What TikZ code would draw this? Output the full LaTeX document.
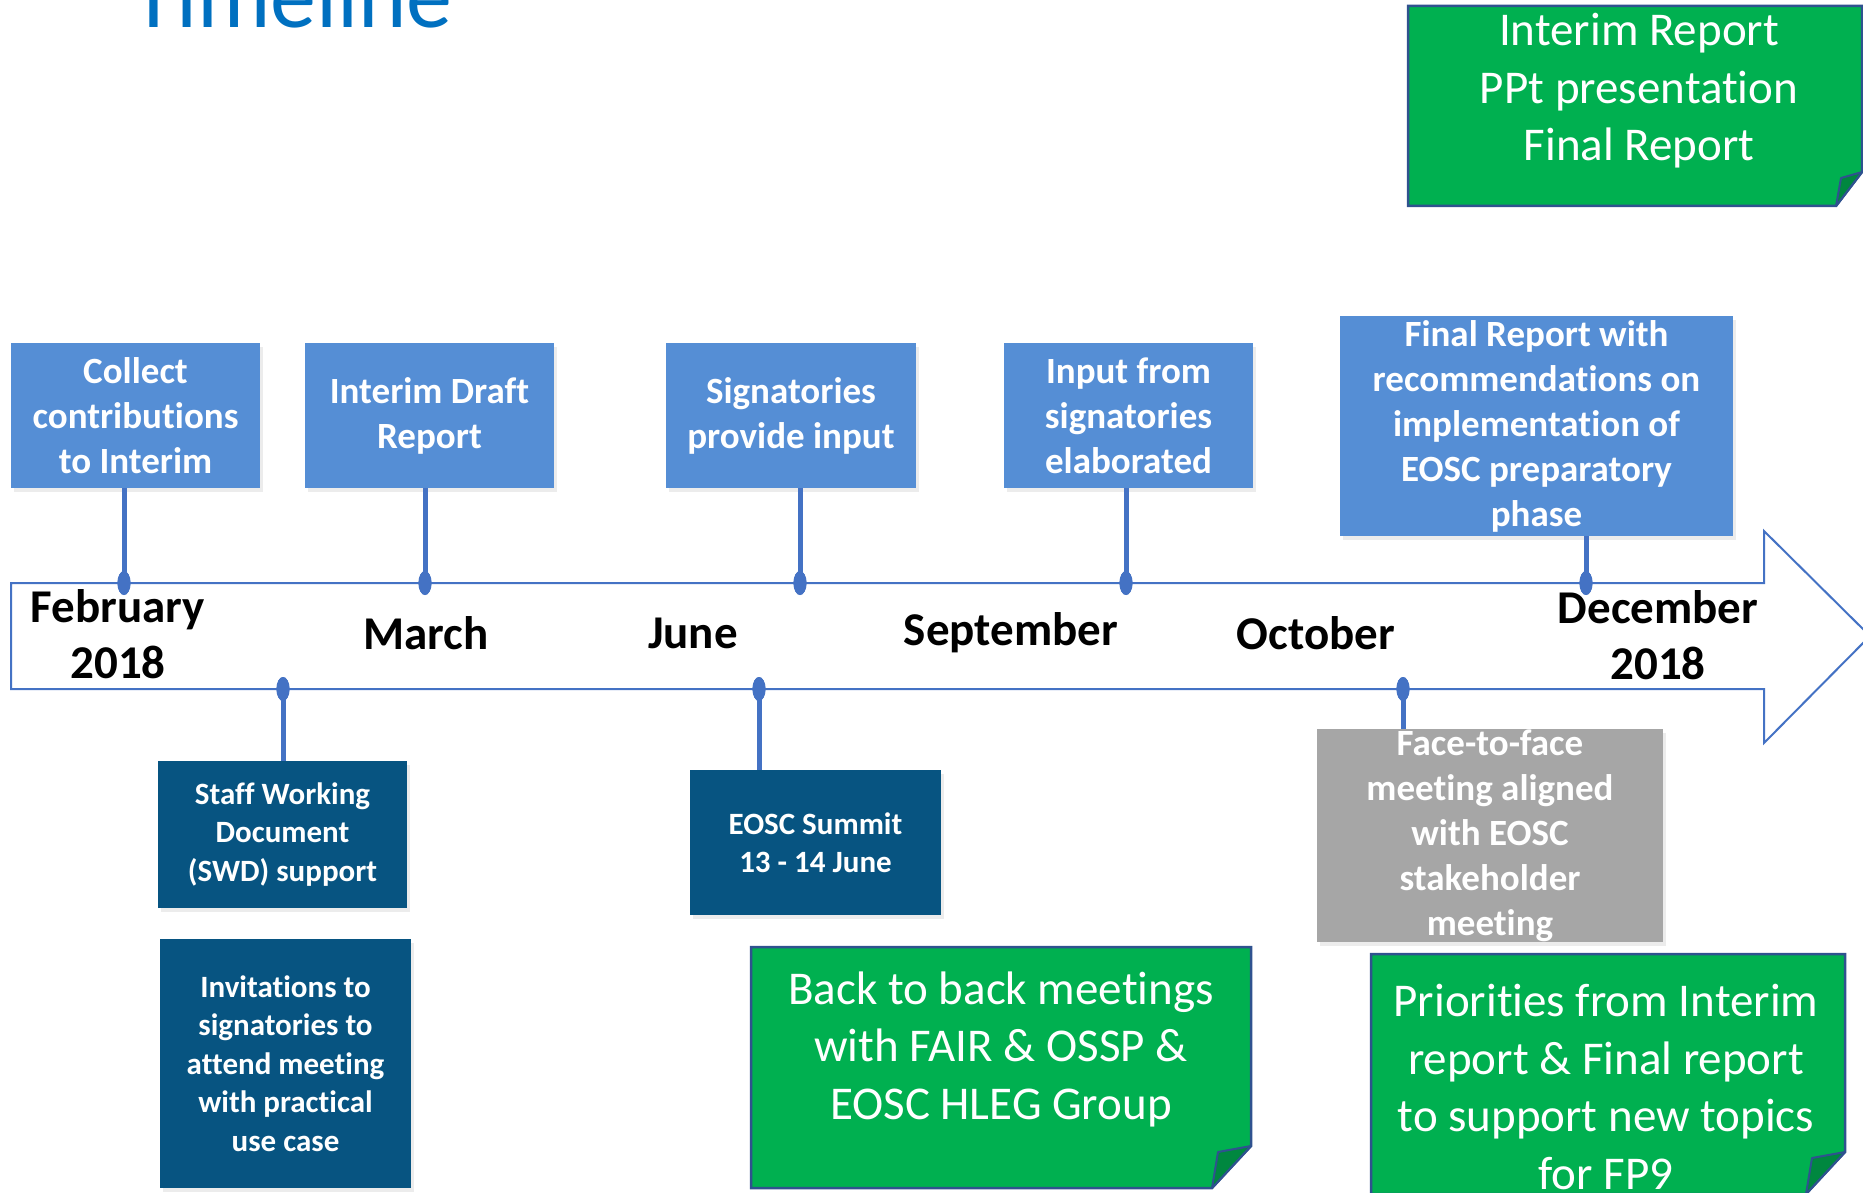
\documentclass[tikz,border=0pt]{standalone}
\usepackage{fontspec}
\setmainfont{Carlito}[Ligatures=NoCommon]
\usetikzlibrary{shapes.geometric,shadows}
\definecolor{titleblue}{HTML}{0070C0}
\definecolor{boxblue}{HTML}{558ED5}
\definecolor{linkblue}{HTML}{4472C4}
\definecolor{darkblue}{HTML}{075481}
\definecolor{greybox}{HTML}{A6A6A6}
\definecolor{notegreen}{HTML}{00B050}
\definecolor{foldgreen}{HTML}{00873F}
\definecolor{noteborder}{HTML}{2F528F}
\begin{document}
\begin{tikzpicture}[x=1pt,y=-1pt,
  shadowed/.style={drop shadow={opacity=0.15, shadow xshift=3pt, shadow yshift=-4pt}},
  lbox/.style={rectangle, fill=boxblue, inner sep=0, shadowed},
  dbox/.style={rectangle, fill=darkblue, inner sep=0, shadowed},
  gbox/.style={rectangle, fill=greybox, inner sep=0, shadowed},
  btxt/.style={text=white, font=\bfseries\fontsize{37}{45}\selectfont, align=center, inner sep=0},
  stxt/.style={text=white, font=\bfseries\fontsize{31}{38.5}\selectfont, align=center, inner sep=0},
  ntxt/.style={text=white, font=\fontsize{47}{57.5}\selectfont, align=center, inner sep=0},
  month/.style={font=\bfseries\fontsize{47}{56}\selectfont, align=center, inner sep=0},
  tdot/.style={ellipse, fill=linkblue, minimum width=13pt, minimum height=24pt, inner sep=0},
  conn/.style={draw=linkblue, line width=5pt},
  note/.style={fill=notegreen, draw=noteborder, line width=2.5pt, line join=miter},
  fold/.style={fill=foldgreen, draw=noteborder, line width=2pt, line join=round}
]
\useasboundingbox (0,0) rectangle (1863,1193);

% title
\node[font=\fontsize{92}{100}\selectfont, text=titleblue, anchor=base west, inner sep=0] (title) at (131,28) {Timeline};

% timeline arrow
\draw[fill=white, draw=linkblue, line width=2pt, line join=miter]
  (11,583) -- (1764,583) -- (1764,531) -- (1870,636) -- (1764,743) -- (1764,689) -- (11,689) -- cycle;

% month labels
\node[month] (feb) at (118,634) {February\\2018};
\node[month] (mar) at (426,633) {March};
\node[month] (jun) at (693,633) {June};
\node[month] (sep) at (1011,633) {September};
\node[month] (oct) at (1316,633) {October};
\node[month] (dec) at (1658,635) {December\\2018};

% upper boxes
\node[lbox, minimum width=249pt, minimum height=145pt] (b1) at (135.5,415.5) {};
\node[lbox, minimum width=249pt, minimum height=145pt] (b2) at (429.5,415.5) {};
\node[lbox, minimum width=250pt, minimum height=145pt] (b3) at (791,415.5) {};
\node[lbox, minimum width=249pt, minimum height=145pt] (b4) at (1128.5,415.5) {};
\node[lbox, minimum width=393pt, minimum height=220pt] (b5) at (1536.5,426) {};

\node[btxt] (t1) at (b1) {Collect\\contributions\\to Interim};
\node[btxt] (t2) at (b2) {Interim Draft\\Report};
\node[btxt] (t3) at (b3) {Signatories\\provide input};
\node[btxt] (t4) at (b4) {Input from\\signatories\\elaborated};
\node[btxt] (t5) at (b5) {Final Report with\\recommendations on\\implementation of\\EOSC preparatory\\phase};

% lower boxes
\node[dbox, minimum width=249pt, minimum height=147pt] (sw) at (282.5,834.5) {};
\node[dbox, minimum width=251pt, minimum height=249pt] (inv) at (285.5,1063.5) {};
\node[dbox, minimum width=251pt, minimum height=145pt] (summit) at (815.5,842.5) {};
\node[gbox, minimum width=346pt, minimum height=213pt] (f2f) at (1490,835.5) {};

\node[stxt] (tsw) at (sw) {Staff Working\\Document\\(SWD) support};
\node[stxt] (tinv) at (inv) {Invitations to\\signatories to\\attend meeting\\with practical\\use case};
\node[stxt] (tsum) at (summit) {EOSC Summit\\13 - 14 June};
\node[btxt] (tf2f) at (f2f) {Face-to-face\\meeting aligned\\with EOSC\\stakeholder\\meeting};

% dots on the timeline
\node[tdot] (d1) at (124,583) {};
\node[tdot] (d2) at (425,583) {};
\node[tdot] (d3) at (800,583) {};
\node[tdot] (d4) at (1126,583) {};
\node[tdot] (d5) at (1586,583) {};
\node[tdot] (e1) at (283,689) {};
\node[tdot] (e2) at (759,689) {};
\node[tdot] (e3) at (1403,689) {};

% connectors
\draw[conn] (d1 |- b1.south) -- (d1.center);
\draw[conn] (d2 |- b2.south) -- (d2.center);
\draw[conn] (d3 |- b3.south) -- (d3.center);
\draw[conn] (d4 |- b4.south) -- (d4.center);
\draw[conn] (d5 |- b5.south) -- (d5.center);
\draw[conn] (e1.center) -- (e1 |- sw.north);
\draw[conn] (e2.center) -- (e2 |- summit.north);
\draw[conn] (e3.center) -- (e3 |- f2f.north);
\node[tdot] at (d1) {};
\node[tdot] at (d2) {};
\node[tdot] at (d3) {};
\node[tdot] at (d4) {};
\node[tdot] at (d5) {};
\node[tdot] at (e1) {};
\node[tdot] at (e2) {};
\node[tdot] at (e3) {};

% green notes with folded corner
\draw[note] (1408,6) -- (1862,6) -- (1862,172) -- (1836,206) -- (1408,206) -- cycle;
\draw[fold] (1862,172) -- (1841,178) -- (1836,206) -- cycle;
\node[ntxt] (tr) at (1639,91) {Interim Report\\PPt presentation\\Final Report};

\draw[note] (751,947) -- (1251,947) -- (1251,1146) -- (1212,1188) -- (751,1188) -- cycle;
\draw[fold] (1251,1146) -- (1218,1152) -- (1212,1188) -- cycle;
\node[ntxt] (btb) at (1001,1049) {Back to back meetings\\with FAIR \& OSSP \&\\EOSC HLEG Group};

\draw[note] (1371,954) -- (1845,954) -- (1845,1152) -- (1806,1194) -- (1371,1194) -- cycle;
\draw[fold] (1845,1152) -- (1812,1158) -- (1806,1194) -- cycle;
\node[ntxt] (pri) at (1606,1087) {Priorities from Interim\\report \& Final report\\to support new topics\\for FP9};
\end{tikzpicture}
\end{document}
